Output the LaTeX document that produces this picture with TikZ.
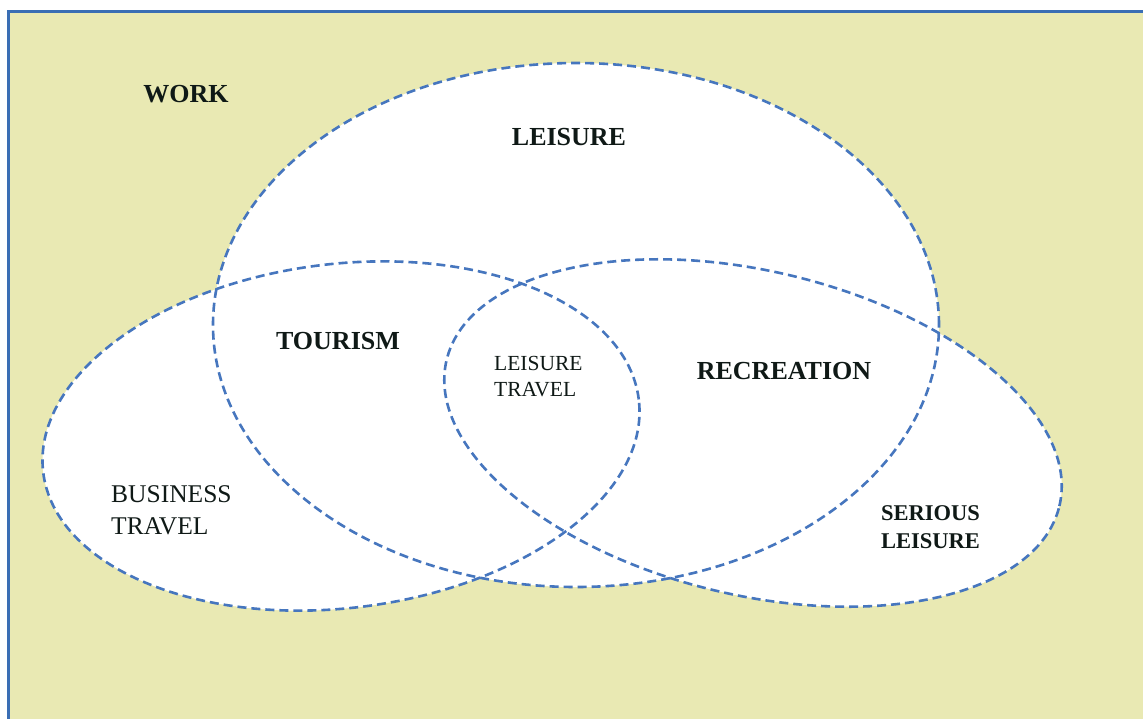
\documentclass[tikz,border=0pt]{standalone}
\usepackage{fontspec}
\setmainfont{Liberation Serif}
\definecolor{bgcol}{RGB}{233,233,179}
\definecolor{framecol}{RGB}{58,110,180}
\definecolor{dashcol}{RGB}{70,118,190}
\definecolor{txtcol}{RGB}{15,25,22}
\begin{document}
\begin{tikzpicture}[x=1pt,y=-1pt,
  setdash/.style={draw=dashcol, line width=2.6pt, dash pattern=on 9pt off 5pt},
  bigb/.style={font=\fontsize{26}{30}\selectfont\bfseries, text=txtcol, inner sep=0pt},
  regl/.style={font=\fontsize{25.5}{32}\selectfont, text=txtcol, inner sep=0pt, align=left},
  smallr/.style={font=\fontsize{21.5}{26}\selectfont, text=txtcol, inner sep=0pt, align=left},
  smallb/.style={font=\fontsize{22.5}{28}\selectfont\bfseries, text=txtcol, inner sep=0pt, align=left}]
\useasboundingbox (0,0) rectangle (1143,718);
\fill[white] (0,0) rectangle (1143,718);
\fill[bgcol] (8,11) rectangle (1160,740);
\draw[framecol, line width=3pt] (8,740) -- (8,11) -- (1160,11);
% fills
\fill[white] (576,325) ellipse [x radius=363pt, y radius=262pt];
\fill[white, shift={(341,436)}, rotate=7] (0,0) ellipse [x radius=300pt, y radius=172pt];
\fill[white, shift={(753,433)}, rotate=-13.4] (0,0) ellipse [x radius=315pt, y radius=162pt];
% outlines
\draw[setdash] (576,325) ellipse [x radius=363pt, y radius=262pt];
\draw[setdash, shift={(341,436)}, rotate=7] (0,0) ellipse [x radius=300pt, y radius=172pt];
\draw[setdash, shift={(753,433)}, rotate=-13.4] (0,0) ellipse [x radius=315pt, y radius=162pt];
% labels
\node[bigb] (work) at (186,94) {WORK};
\node[bigb] (leisure) at (569,137) {LEISURE};
\node[bigb] (tourism) at (338,341) {TOURISM};
\node[bigb] (recreation) at (784,371) {RECREATION};
\node[smallr, anchor=west] (ltravel) at (494,377) {LEISURE\\TRAVEL};
\node[regl, anchor=west] (btravel) at (111,510) {BUSINESS\\TRAVEL};
\node[smallb, anchor=west] (serious) at (881,527) {SERIOUS\\LEISURE};
\end{tikzpicture}
\end{document}
